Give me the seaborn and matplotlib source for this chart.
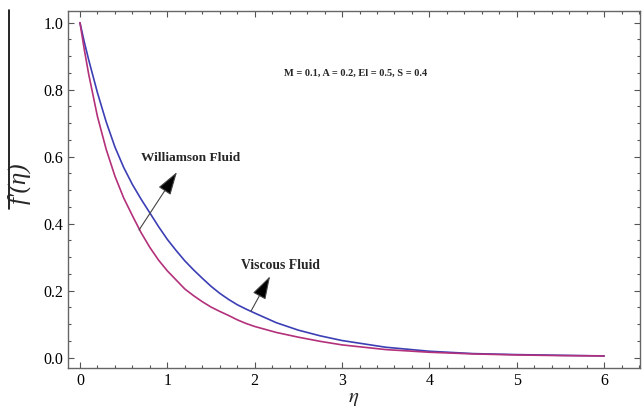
import numpy as np
import pandas as pd
import matplotlib
matplotlib.use("Agg")
import matplotlib.pyplot as plt
from matplotlib.ticker import MultipleLocator, FormatStrFormatter
from matplotlib.lines import Line2D
import seaborn as sns

eta = [0, 0.05, 0.1, 0.2, 0.3, 0.4, 0.5, 0.6, 0.7, 0.8, 0.9, 1.0, 1.1, 1.2,
       1.3, 1.4, 1.5, 1.6, 1.7, 1.8, 1.9, 2.0, 2.25, 2.5, 2.75, 3.0, 3.5,
       4.0, 4.5, 5.0, 5.5, 6.0]
williamson = [1.0, 0.942, 0.889, 0.791, 0.704, 0.629, 0.568, 0.517, 0.473,
              0.432, 0.391, 0.353, 0.320, 0.289, 0.262, 0.237, 0.213, 0.192,
              0.174, 0.158, 0.145, 0.133, 0.104, 0.082, 0.065, 0.051, 0.031,
              0.019, 0.012, 0.009, 0.007, 0.005]
viscous = [1.0, 0.919, 0.846, 0.720, 0.622, 0.542, 0.477, 0.424, 0.373,
           0.329, 0.291, 0.259, 0.232, 0.205, 0.185, 0.167, 0.151, 0.138,
           0.126, 0.113, 0.102, 0.093, 0.075, 0.061, 0.0486, 0.038, 0.024,
           0.016, 0.011, 0.008, 0.006, 0.005]
series_names = ["Williamson Fluid", "Viscous Fluid"]
param_text = "M = 0.1, A = 0.2, El = 0.5, S = 0.4"
x_ticks = [0, 1, 2, 3, 4, 5, 6]
y_ticks = [0.0, 0.2, 0.4, 0.6, 0.8, 1.0]

sns.set_theme(style="ticks")
plt.rcParams["font.family"] = ["Liberation Serif", "DejaVu Serif"]
plt.rcParams["mathtext.fontset"] = "stix"

df = pd.DataFrame({
    "eta": eta * 2,
    "f": williamson + viscous,
    "fluid": [series_names[0]] * len(eta) + [series_names[1]] * len(eta),
})

fig = plt.figure(figsize=(6.42, 4.08), dpi=100)
ax = fig.add_axes([68 / 642, 1 - 368 / 408, (640 - 68) / 642, (368 - 11) / 408])

sns.lineplot(data=df, x="eta", y="f", hue="fluid", ax=ax, legend=False,
             palette={series_names[0]: "#3c3fb4", series_names[1]: "#b3307a"},
             linewidth=1.2, estimator=None, sort=False)

ax.set_xlim(-0.137, 6.41)
ax.set_ylim(-0.031, 1.035)
ax.set_xticks(x_ticks)
ax.set_yticks(y_ticks)
ax.yaxis.set_major_formatter(FormatStrFormatter("%.1f"))
ax.xaxis.set_minor_locator(MultipleLocator(0.2))
ax.yaxis.set_minor_locator(MultipleLocator(0.05))
ax.tick_params(which="both", direction="in", top=True, right=True,
               colors="#555555", labelcolor="black", labelsize=11.5, width=0.8)
ax.tick_params(which="major", length=4)
ax.tick_params(which="minor", length=2)
for s in ax.spines.values():
    s.set_color("#666666")
    s.set_linewidth(1.0)

ax.set_xlabel(r"$\eta$", fontsize=15, labelpad=0)
ax.set_ylabel("")
fig.text(19 / 642, 1 - 183 / 408, "f\u2032(\u03b7)", rotation=90,
         fontsize=18, style="italic", ha="center", va="center")
fig.add_artist(Line2D([9 / 642, 9 / 642], [1 - 10 / 408, 1 - 209 / 408],
                      transform=fig.transFigure, color="black", lw=1.2))

ax.text(3.15, 0.849, param_text, fontsize=7.5, fontweight="bold",
        ha="center", va="center")

arrow = dict(arrowstyle="-|>,head_length=1.45,head_width=0.45",
             mutation_scale=10, lw=0.8, color="#444444", fc="black",
             ec="#444444", shrinkA=0, shrinkB=0)
ax.annotate("", xy=(1.11, 0.554), xytext=(0.676, 0.381), arrowprops=arrow)
ax.annotate("", xy=(2.176, 0.243), xytext=(1.958, 0.139), arrowprops=arrow)
ax.text(1.27, 0.595, series_names[0], fontsize=9.6, fontweight="bold",
        ha="center", va="center")
ax.text(2.30, 0.276, series_names[1], fontsize=9.8, fontweight="bold",
        ha="center", va="center")

fig.savefig("out.png", dpi=100)
